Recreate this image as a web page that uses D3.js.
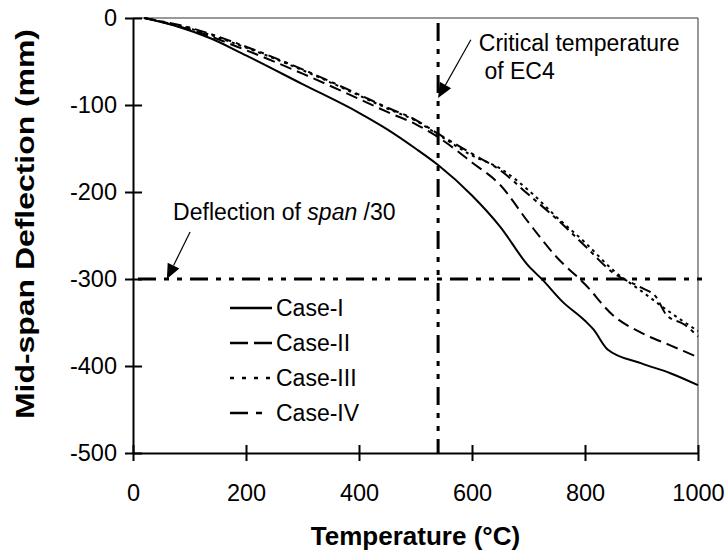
<!DOCTYPE html>
<html><head><meta charset="utf-8">
<script src="https://cdn.jsdelivr.net/npm/d3@7"></script>
<style>
body{margin:0;background:#fff}
svg{display:block}
text{font-family:Arial,"Liberation Sans",sans-serif;fill:#000}
</style>
</head><body><div id="chart"></div>
<script>
// ---- data ----
const seriesNames = ["Case-I","Case-II","Case-III","Case-IV"];
const caseI_T  = [20, 80, 136, 200, 300, 400, 450, 500, 540, 600, 650, 700, 725, 760, 800, 815, 840, 900, 950, 1000];
const caseI_D  = [0, -10, -23, -43, -76, -109, -128, -150, -169, -204, -240, -285, -301, -326, -348, -358, -381, -397, -408, -422];
const caseII_T = [20, 100, 200, 300, 400, 450, 500, 540, 600, 650, 700, 750, 800, 850, 900, 950, 1000];
const caseII_D = [0, -13, -37, -64, -93, -108, -122, -137, -166, -192, -235, -275, -306, -342, -362, -376, -390];
const caseIII_T = [20, 100, 200, 300, 400, 450, 500, 540, 600, 650, 700, 750, 800, 850, 900, 950, 1000];
const caseIII_D = [0, -12, -34, -60, -89, -104, -118, -134, -158, -173, -198, -229, -258, -290, -314, -338, -360];
const caseIV_T = [20, 100, 200, 300, 400, 450, 500, 540, 600, 650, 700, 750, 800, 850, 900, 925, 945, 975, 1000];
const caseIV_D = [0, -11, -33, -59, -88, -103, -117, -133, -156, -175, -203, -231, -262, -293, -310, -320, -342, -352, -366];
const xTicks = [0, 200, 400, 600, 800, 1000];
const yTicks = [0, -100, -200, -300, -400, -500];
const critTemp = 540;          // critical temperature of EC4 (°C)
const spanLimit = -300;        // deflection of span/30 (mm)
const xTitle = "Temperature (°C)";
const yTitle = "Mid-span Deflection (mm)";

// ---- layout ----
const W = 728, H = 560;
const x = d3.scaleLinear().domain([0, 1000]).range([133, 698]);
const y = d3.scaleLinear().domain([-500, 0]).range([453, 18]);

const svg = d3.select("#chart").append("svg").attr("width", W).attr("height", H);

// plot frame (top/right thin)
svg.append("path")
  .attr("d", `M${x(0)},${y(0)}H${x(1000)}V${y(-500)}`)
  .attr("fill", "none").attr("stroke", "#333").attr("stroke-width", 1);

// reference lines (dash-dot-dot)
const refDash = "18,8,5,8,5,8";
svg.append("line")
  .attr("x1", x(0)).attr("x2", x(1000) + 9)
  .attr("y1", y(spanLimit)).attr("y2", y(spanLimit))
  .attr("stroke", "#000").attr("stroke-width", 3)
  .attr("stroke-dasharray", refDash).attr("stroke-dashoffset", 47);
svg.append("line")
  .attr("x1", x(critTemp)).attr("x2", x(critTemp))
  .attr("y1", y(0)).attr("y2", y(-500))
  .attr("stroke", "#000").attr("stroke-width", 3)
  .attr("stroke-dasharray", refDash).attr("stroke-dashoffset", 47);

// series
const series = [
  {name: seriesNames[0], T: caseI_T, D: caseI_D, dash: null, ldash: null},
  {name: seriesNames[1], T: caseII_T, D: caseII_D, dash: "12,6", ldash: "18,6"},
  {name: seriesNames[2], T: caseIII_T, D: caseIII_D, dash: "3,4", ldash: "4,8"},
  {name: seriesNames[3], T: caseIV_T, D: caseIV_D, dash: "12,5,4,5", ldash: "18,8,6,20"}
];
const line = d3.line().x(d => x(d[0])).y(d => y(d[1])).curve(d3.curveMonotoneX);
series.forEach(s => {
  svg.append("path")
    .datum(s.T.map((t, i) => [t, s.D[i]]))
    .attr("d", line)
    .attr("fill", "none").attr("stroke", "#000").attr("stroke-width", 2)
    .attr("stroke-dasharray", s.dash);
});

// axes
const fmt = d => String(d);
const gy = svg.append("g").attr("transform", `translate(${x(0)},0)`)
  .call(d3.axisLeft(y).tickValues(yTicks).tickSize(8).tickSizeOuter(0).tickPadding(8).tickFormat(fmt));
const gy2 = svg.append("g").attr("transform", `translate(${x(0)},0)`)
  .call(d3.axisLeft(y).tickValues(yTicks).tickSize(-9).tickSizeOuter(0).tickFormat(""));
gy2.select(".domain").remove();
const gx = svg.append("g").attr("transform", `translate(0,${y(-500)})`)
  .call(d3.axisBottom(x).tickValues(xTicks).tickSize(8).tickSizeOuter(0).tickPadding(23).tickFormat(fmt));
const gx2 = svg.append("g").attr("transform", `translate(0,${y(-500)})`)
  .call(d3.axisBottom(x).tickValues(xTicks).tickSize(-8).tickSizeOuter(0).tickFormat(""));
gx2.select(".domain").remove();
[gy, gy2, gx, gx2].forEach(g => {
  g.selectAll("path,line").attr("stroke", "#000").attr("stroke-width", 2);
  g.selectAll("text").attr("font-size", 23.5).attr("font-family", "Arial, 'Liberation Sans', sans-serif").attr("fill", "#000");
});

// axis titles
svg.append("text").attr("x", (x(0) + x(1000)) / 2).attr("y", 545)
  .attr("text-anchor", "middle").attr("font-size", 26).attr("font-weight", "bold").text(xTitle);
svg.append("text").attr("transform", `translate(34,224) rotate(-90)`)
  .attr("text-anchor", "middle").attr("font-size", 26).attr("font-weight", "bold")
  .attr("textLength", 390).attr("lengthAdjust", "spacingAndGlyphs").text(yTitle);

// legend
const lg = svg.append("g");
series.forEach((s, i) => {
  const ly = 308 + i * 35;
  lg.append("line").attr("x1", 230).attr("x2", 272).attr("y1", ly).attr("y2", ly)
    .attr("stroke", "#000").attr("stroke-width", 2.5).attr("stroke-dasharray", s.ldash);
  lg.append("text").attr("x", 276).attr("y", ly).attr("dy", "0.35em")
    .attr("font-size", 23).text(s.name);
});

// annotations
function arrow(x0, y0, x1, y1) {
  const dx = x1 - x0, dy = y1 - y0, L = Math.hypot(dx, dy), ux = dx / L, uy = dy / L;
  const hl = 15, hw = 6.5;
  const bx = x1 - ux * hl, by = y1 - uy * hl;
  svg.append("line").attr("x1", x0).attr("y1", y0).attr("x2", bx).attr("y2", by)
    .attr("stroke", "#000").attr("stroke-width", 1.2);
  svg.append("path")
    .attr("d", `M${x1},${y1}L${bx - uy * hw},${by + ux * hw}L${bx + uy * hw},${by - ux * hw}Z`)
    .attr("fill", "#000");
}
// Critical temperature arrow (data coords)
arrow(x(598), y(-25), x(critTemp), y(-92));
svg.append("text").attr("x", x(612)).attr("y", y(-38)).attr("font-size", 23).text("Critical temperature");
svg.append("text").attr("x", x(622)).attr("y", y(-70)).attr("font-size", 23).text("of EC4");
// span/30 arrow
arrow(x(101), y(-246), x(60), y(spanLimit));
const t2 = svg.append("text").attr("x", x(71)).attr("y", y(-232)).attr("font-size", 23);
t2.append("tspan").text("Deflection of ");
t2.append("tspan").attr("font-style", "italic").text("span");
t2.append("tspan").text(" /30");
</script>
</body></html>
